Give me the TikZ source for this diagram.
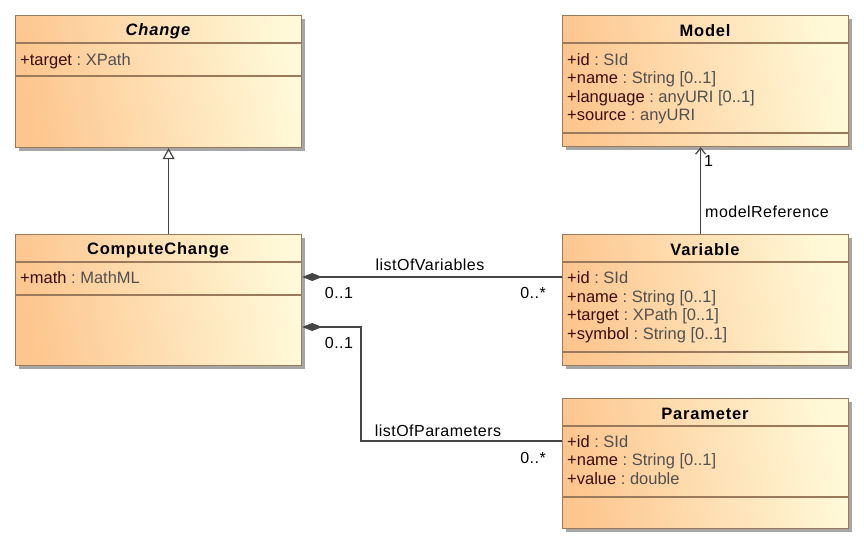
\documentclass[tikz,border=0pt]{standalone}
\usepackage{fontspec}
\setmainfont{Liberation Sans}
\usetikzlibrary{arrows.meta,shadows,calc}
\definecolor{cleft}{HTML}{FDC68F}
\definecolor{cright}{HTML}{FFF9D8}
\definecolor{cborder}{HTML}{9A7A5A}
\definecolor{attrname}{HTML}{3A0C0C}
\definecolor{attrtype}{HTML}{505050}
\definecolor{linec}{HTML}{454545}
\newcommand{\attr}[2]{\textcolor{attrname}{+#1}~\textcolor{attrtype}{:~#2}}
\tikzset{
  cls/.style={rectangle, draw=cborder, line width=1.2pt, left color=cleft, right color=cright, shading angle=100,
    drop shadow={shadow xshift=3pt, shadow yshift=-3pt, fill=black!35, opacity=1},
    anchor=north west, minimum width=286pt, inner sep=0pt},
  divider/.style={draw=cborder, line width=1.2pt},
  title/.style={font=\fontsize{16.5}{18}\selectfont\bfseries\addfontfeature{LetterSpace=5}, anchor=center},
  attrs/.style={font=\fontsize{16.5}{18.5}\selectfont, anchor=north west, align=left, inner sep=0pt},
  conn/.style={draw=linec, line width=1.3pt},
  lbl/.style={font=\fontsize{16}{18}\selectfont\addfontfeature{LetterSpace=3}, inner sep=0pt}
}
\begin{document}
\begin{tikzpicture}[x=1pt,y=-1pt]
\useasboundingbox (0,0) rectangle (864,545);

% Change
\node[cls, minimum height=132pt] (change) at (15,15) {};
\draw[divider] (15,43) -- (301,43);
\draw[divider] (15,76) -- (301,76);
\node[title, font=\fontsize{16.5}{18}\selectfont\bfseries\itshape\addfontfeature{LetterSpace=5}] (changet) at (158,31) {Change};
\node[attrs] (changea) at (20,53.5) {\attr{target}{XPath}};

% Model
\node[cls, minimum height=131pt] (model) at (562,15) {};
\draw[divider] (562,43) -- (848,43);
\draw[divider] (562,133) -- (848,133);
\node[title] (modelt) at (705,31) {Model};
\node[attrs] (modela) at (567,53) {\attr{id}{SId}\\ \attr{name}{String [0..1]}\\ \attr{language}{anyURI [0..1]}\\ \attr{source}{anyURI}};

% ComputeChange
\node[cls, minimum height=131pt] (cc) at (15,234) {};
\draw[divider] (15,262) -- (301,262);
\draw[divider] (15,295) -- (301,295);
\node[title] (cct) at (158,250) {ComputeChange};
\node[attrs] (cca) at (20,271) {\attr{math}{MathML}};

% Variable
\node[cls, minimum height=131pt] (var) at (562,234) {};
\draw[divider] (562,262) -- (848,262);
\draw[divider] (562,352) -- (848,352);
\node[title] (vart) at (705,250) {Variable};
\node[attrs] (vara) at (567,271.5) {\attr{id}{SId}\\ \attr{name}{String [0..1]}\\ \attr{target}{XPath [0..1]}\\ \attr{symbol}{String [0..1]}};

% Parameter
\node[cls, minimum height=130pt] (par) at (562,398) {};
\draw[divider] (562,426) -- (848,426);
\draw[divider] (562,497) -- (848,497);
\node[title] (part) at (705,414) {Parameter};
\node[attrs] (para) at (567,435) {\attr{id}{SId}\\ \attr{name}{String [0..1]}\\ \attr{value}{double}};

% Generalization
\draw[conn, -{Triangle[open, length=11pt, width=12pt, line width=1.2pt]}] ([xshift=10pt]cc.north) -- ([xshift=10pt]change.south);

% modelReference
\draw[conn, -{Straight Barb[length=6pt, width=10pt, line width=1.2pt]}] ([xshift=-5pt]var.north) -- ([xshift=-5pt]model.south);
\node[lbl, anchor=west] (one) at (704,161) {1};
\node[lbl, anchor=west] (mref) at (705,212) {modelReference};

% listOfVariables
\coordinate (lv1) at ($(cc.north east)+(0,43)$);
\coordinate (lv2) at ($(var.north west)+(0,43)$);
\draw[conn, {Diamond[length=20pt, width=8pt, fill=linec]}-] (lv1) -- (lv2);
\node[lbl] (lvl) at (430,265) {listOfVariables};
\node[lbl] (lvm1) at (339,293) {0..1};
\node[lbl] (lvm2) at (533,293) {0..*};

% listOfParameters
\coordinate (lp1) at ($(cc.north east)+(0,93)$);
\coordinate (lp2) at ($(par.north west)+(0,43)$);
\draw[conn, {Diamond[length=20pt, width=8pt, fill=linec]}-] (lp1) -- (361,327) -- (361,441) -- (lp2);
\node[lbl] (lpl) at (438,431) {listOfParameters};
\node[lbl] (lpm1) at (339,343) {0..1};
\node[lbl] (lpm2) at (533,458) {0..*};
\end{tikzpicture}
\end{document}
